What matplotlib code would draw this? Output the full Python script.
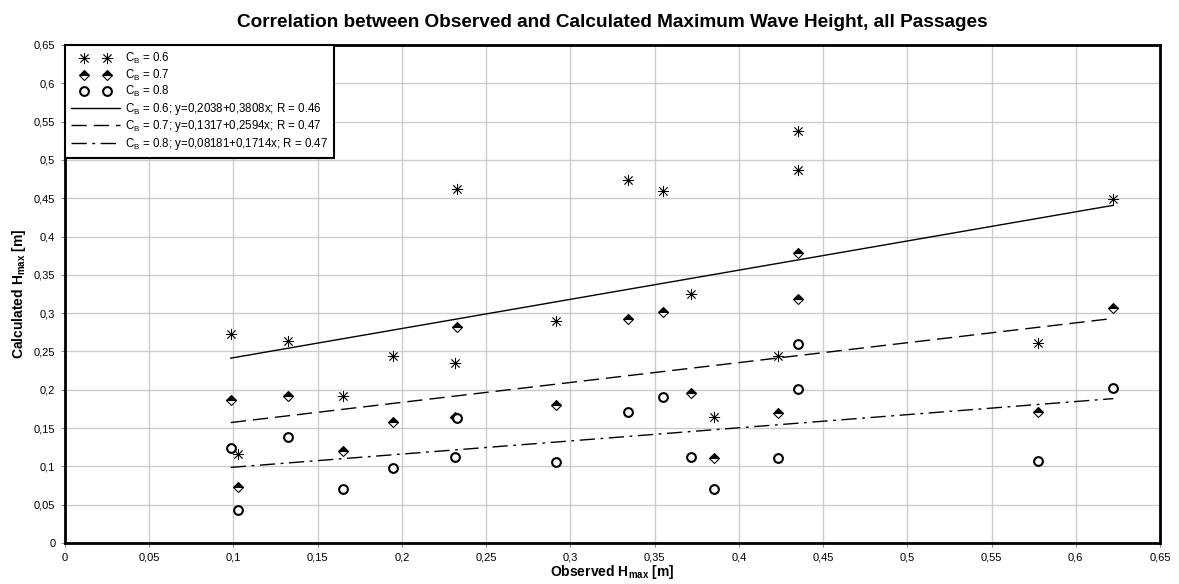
import matplotlib
matplotlib.use("Agg")
import matplotlib.pyplot as plt
import numpy as np
from matplotlib.ticker import MultipleLocator, FuncFormatter
from matplotlib.legend_handler import HandlerLine2D

plt.rcParams['font.family'] = ['Liberation Sans', 'DejaVu Sans']
plt.rcParams['mathtext.fontset'] = 'custom'
plt.rcParams['mathtext.rm'] = 'Liberation Sans'
plt.rcParams['mathtext.bf'] = 'Liberation Sans:bold'

# Observed H_max [m]
observed = [0.0984, 0.1025, 0.1322, 0.1648, 0.1949, 0.2315, 0.2325, 0.2913, 0.3344,
            0.3552, 0.3714, 0.3855, 0.4231, 0.4353, 0.4353, 0.5774, 0.6223]
# Calculated H_max [m] for each block coefficient
calc_cb06 = [0.2724, 0.1162, 0.2636, 0.1919, 0.2445, 0.2345, 0.4616, 0.2901, 0.4738,
             0.4598, 0.3250, 0.1649, 0.2441, 0.5377, 0.4868, 0.2606, 0.4486]
calc_cb07 = [0.1866, 0.0735, 0.1923, 0.1205, 0.1583, 0.1649, 0.2823, 0.1801, 0.2919,
             0.3019, 0.1962, 0.1105, 0.1693, 0.3789, 0.3181, 0.1714, 0.3063]
calc_cb08 = [0.1236, 0.0431, 0.1379, 0.0701, 0.0983, 0.1118, 0.1627, 0.1053, 0.1705,
             0.1910, 0.1118, 0.0705, 0.1113, 0.2597, 0.2006, 0.1070, 0.2019]

# Regression lines (intercept, slope) as stated in legend
fit_cb06 = (0.2038, 0.3808)
fit_cb07 = (0.1317, 0.2594)
fit_cb08 = (0.08181, 0.1714)

point_labels = [r'C$_{\mathregular{B}}$ = 0.6', r'C$_{\mathregular{B}}$ = 0.7', r'C$_{\mathregular{B}}$ = 0.8']
line_labels = [r'C$_{\mathregular{B}}$ = 0.6; y=0,2038+0,3808x; R = 0.46',
               r'C$_{\mathregular{B}}$ = 0.7; y=0,1317+0,2594x; R = 0.47',
               r'C$_{\mathregular{B}}$ = 0.8; y=0,08181+0,1714x; R = 0.47']

fig = plt.figure(figsize=(11.79, 5.84), dpi=100)
ax = fig.add_axes([65/1179, 41/584, 1095/1179, 498/584])

x = np.array(observed)
xs = np.array([x.min(), x.max()])

h1, = ax.plot(x, calc_cb06, linestyle='none', marker=(8, 2, 0), markersize=8,
              markeredgecolor='black', markeredgewidth=0.6, color='black', zorder=4)
h2, = ax.plot(x, calc_cb07, linestyle='none', marker='D', markersize=5.4, fillstyle='top',
              markerfacecolor='black', markerfacecoloralt='white', markeredgecolor='black',
              markeredgewidth=0.8, zorder=4)
h3, = ax.plot(x, calc_cb08, linestyle='none', marker='o', markersize=6.3, markerfacecolor='white',
              markeredgecolor='black', markeredgewidth=1.5, zorder=4)

l1, = ax.plot(xs, fit_cb06[0] + fit_cb06[1]*xs, color='black', lw=1.0, zorder=3)
l2, = ax.plot(xs, fit_cb07[0] + fit_cb07[1]*xs, color='black', lw=1.0, dashes=(11, 5), zorder=3)
l3, = ax.plot(xs, fit_cb08[0] + fit_cb08[1]*xs, color='black', lw=1.0, dashes=(11, 4, 2, 4), zorder=3)

ax.set_xlim(0, 0.65)
ax.set_ylim(0, 0.65)
ax.xaxis.set_major_locator(MultipleLocator(0.05))
ax.yaxis.set_major_locator(MultipleLocator(0.05))
fmt = FuncFormatter(lambda v, p: f'{round(v, 2):g}'.replace('.', ','))
ax.xaxis.set_major_formatter(fmt)
ax.yaxis.set_major_formatter(fmt)
ax.tick_params(axis='both', labelsize=8, length=3, width=0.8, color='#888888', pad=4)
ax.grid(True, color='#cccccc', lw=1)
ax.set_axisbelow(True)
for s in ax.spines.values():
    s.set_linewidth(2)
    s.set_color('black')

ax.set_xlabel(r'Observed H$_{\mathbf{max}}$ [m]', fontsize=10, fontweight='bold', labelpad=0)
ax.set_ylabel(r'Calculated H$_{\mathbf{max}}$ [m]', fontsize=10, fontweight='bold', labelpad=4)
ax.set_title('Correlation between Observed and Calculated Maximum Wave Height, all Passages',
             fontsize=13.7, fontweight='bold', pad=13)

hm = {h: HandlerLine2D(numpoints=2, marker_pad=1.1) for h in (h1, h2, h3)}
leg = ax.legend([h1, h2, h3, l1, l2, l3], point_labels + line_labels, loc='upper left',
                bbox_to_anchor=(0, 1), borderaxespad=0, fontsize=8.3, frameon=True,
                fancybox=False, framealpha=1, edgecolor='black', handlelength=4.2,
                handletextpad=0.45, labelspacing=0.12, borderpad=0.55, handler_map=hm)
leg.get_frame().set_linewidth(1.5)

fig.savefig('out.png', dpi=100)
